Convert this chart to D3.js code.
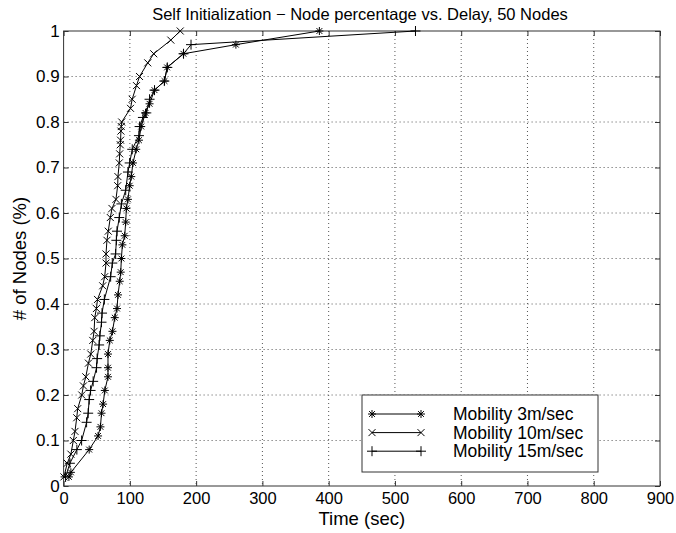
<!DOCTYPE html>
<html>
<head>
<meta charset="utf-8">
<script src="https://cdn.jsdelivr.net/npm/d3@7"></script>
<style>
  body { margin: 0; background: #fff; }
  text { font-family: "Liberation Sans", Arial, sans-serif; fill: #000; }
</style>
</head>
<body>
<div id="chart-area"></div>
<script>
// Data
var mob3Time  = [8, 11, 38.6, 52, 55.6, 57.2, 59.6, 62.2, 67, 67, 67, 69.7, 73.7, 77.2, 80.6, 82.1, 84.7, 86.2, 87.2, 88.7, 92.2, 93.7, 94.7, 97.1, 99.7, 102.1, 104.7, 109.6, 113.7, 117.1, 123.6, 129.7, 137.2, 152.3, 156.2, 180.8, 260, 386];
var mob3Frac  = [0.02, 0.03, 0.08, 0.11, 0.13, 0.16, 0.18, 0.21, 0.24, 0.26, 0.29, 0.32, 0.34, 0.37, 0.39, 0.42, 0.45, 0.47, 0.50, 0.53, 0.55, 0.58, 0.61, 0.63, 0.66, 0.68, 0.71, 0.74, 0.76, 0.79, 0.82, 0.84, 0.87, 0.89, 0.92, 0.95, 0.97, 1.0];

var mob10Time = [0.5, 5.5, 11, 14.7, 17.2, 19.8, 21.3, 27.4, 29.9, 33.5, 37.5, 41, 44, 46, 47, 49.5, 51.2, 59, 62, 64, 64, 65.4, 67.4, 70.5, 73, 79, 81.6, 82, 84, 84.6, 85.5, 86, 86.5, 87, 87.7, 101, 103.5, 110, 114.6, 127, 136, 161.8, 176];
var mob10Frac = [0.02, 0.05, 0.07, 0.10, 0.12, 0.15, 0.17, 0.20, 0.22, 0.24, 0.27, 0.29, 0.32, 0.34, 0.37, 0.39, 0.41, 0.44, 0.46, 0.49, 0.51, 0.54, 0.56, 0.59, 0.61, 0.63, 0.66, 0.68, 0.71, 0.73, 0.75, 0.76, 0.78, 0.79, 0.80, 0.83, 0.85, 0.88, 0.90, 0.93, 0.95, 0.98, 1.0];

var mob15Time = [3, 9.5, 20, 27.2, 34.7, 37.1, 38.6, 40.7, 44.6, 49.7, 50.6, 53.6, 54.7, 57.2, 58, 61.5, 71, 73.5, 78.5, 79.6, 80.6, 84, 87.2, 93.7, 97.1, 99.7, 103.6, 113.7, 114.7, 119.7, 124.8, 129.7, 137.2, 152, 156.5, 181, 192.3, 531];
var mob15Frac = [0.02, 0.05, 0.08, 0.10, 0.14, 0.16, 0.19, 0.21, 0.23, 0.26, 0.28, 0.31, 0.33, 0.36, 0.38, 0.41, 0.46, 0.49, 0.51, 0.54, 0.56, 0.59, 0.62, 0.65, 0.69, 0.71, 0.74, 0.77, 0.79, 0.81, 0.82, 0.85, 0.87, 0.89, 0.92, 0.95, 0.97, 1.0];

var seriesNames = ["Mobility 3m/sec", "Mobility 10m/sec", "Mobility 15m/sec"];
var xTicks = [0, 100, 200, 300, 400, 500, 600, 700, 800, 900];
var yTicks = [0, 0.1, 0.2, 0.3, 0.4, 0.5, 0.6, 0.7, 0.8, 0.9, 1];
var yTickLabels = ["0", "0.1", "0.2", "0.3", "0.4", "0.5", "0.6", "0.7", "0.8", "0.9", "1"];

var series = [
	{ name: seriesNames[0], marker: "star",  pts: d3.zip(mob3Time, mob3Frac) },
	{ name: seriesNames[1], marker: "cross", pts: d3.zip(mob10Time, mob10Frac) },
	{ name: seriesNames[2], marker: "plus",  pts: d3.zip(mob15Time, mob15Frac) }
];

// Margins
var margin = { top: 31, right: 16, bottom: 47, left: 63.6 };
var width = 676 - margin.left - margin.right,
	height = 533 - margin.top - margin.bottom;

var x = d3.scaleLinear().domain([0, 900]).range([0, width]);
var y = d3.scaleLinear().domain([0, 1]).range([height, 0]);

var svg = d3.select("#chart-area")
	.append("svg")
		.attr("width", 676)
		.attr("height", 533);

var g = svg.append("g")
	.attr("transform", `translate(${margin.left},${margin.top})`);

// Dotted grid
g.selectAll(".vgrid")
	.data(xTicks.slice(1, -1))
	.enter().append("line")
		.attr("x1", (d) => x(d)).attr("x2", (d) => x(d))
		.attr("y1", 0).attr("y2", height)
		.attr("stroke", "#555")
		.attr("stroke-dasharray", "1,3");

g.selectAll(".hgrid")
	.data(yTicks.slice(1, -1))
	.enter().append("line")
		.attr("x1", 0).attr("x2", width)
		.attr("y1", (d) => y(d)).attr("y2", (d) => y(d))
		.attr("stroke", "#555")
		.attr("stroke-dasharray", "1,3");

// Axes, ticks pointing inward, mirrored on top/right
var xAxisCall = d3.axisBottom(x).tickValues(xTicks).tickSizeInner(-5).tickSizeOuter(0).tickPadding(6);
var yAxisCall = d3.axisLeft(y).tickValues(yTicks).tickSizeInner(-5).tickSizeOuter(0).tickPadding(4)
	.tickFormat((d, i) => yTickLabels[i]);

var xa = g.append("g")
	.attr("transform", `translate(0,${height})`)
	.call(xAxisCall);
var ya = g.append("g").call(yAxisCall);

g.append("g").call(d3.axisTop(x).tickValues(xTicks).tickSizeInner(-5).tickSizeOuter(0).tickFormat(""));
g.append("g").attr("transform", `translate(${width},0)`)
	.call(d3.axisRight(y).tickValues(yTicks).tickSizeInner(-5).tickSizeOuter(0).tickFormat(""));

g.selectAll(".domain").attr("stroke", "none");
g.selectAll(".tick line").attr("stroke", "#333");
xa.selectAll("text").attr("font-size", 16.5).attr("font-family", "Liberation Sans");
ya.selectAll("text").attr("font-size", 17).attr("font-family", "Liberation Sans");

g.append("rect")
	.attr("width", width).attr("height", height)
	.attr("fill", "none")
	.attr("stroke", "#333");

// Markers
function drawMarker(sel, type, cx, cy) {
	var s;
	if (type === "plus") {
		s = 5;
		sel.append("path").attr("d", `M${cx - s},${cy}H${cx + s}M${cx},${cy - s}V${cy + s}`);
	} else if (type === "cross") {
		s = 3.5;
		sel.append("path").attr("d", `M${cx - s},${cy - s}L${cx + s},${cy + s}M${cx - s},${cy + s}L${cx + s},${cy - s}`);
	} else {
		s = 4;
		var d = 2.9;
		sel.append("path").attr("d", `M${cx - s},${cy}H${cx + s}M${cx},${cy - s}V${cy + s}` +
			`M${cx - d},${cy - d}L${cx + d},${cy + d}M${cx - d},${cy + d}L${cx + d},${cy - d}`);
	}
}

var line = d3.line().x((d) => x(d[0])).y((d) => y(d[1]));

series.forEach((s) => {
	g.append("path")
		.datum(s.pts)
		.attr("d", line)
		.attr("fill", "none")
		.attr("stroke", "#000")
		.attr("stroke-width", 1);
	var mg = g.append("g").attr("stroke", "#000").attr("stroke-width", 1).attr("fill", "none");
	s.pts.forEach((p) => drawMarker(mg, s.marker, x(p[0]), y(p[1])));
});

// Legend
var lg = svg.append("g").attr("transform", "translate(362,395)");
lg.append("rect")
	.attr("width", 236).attr("height", 77)
	.attr("fill", "#fff")
	.attr("stroke", "#333");

series.forEach((s, i) => {
	var ly = 19 + i * 18.6;
	lg.append("line")
		.attr("x1", 10).attr("x2", 59)
		.attr("y1", ly).attr("y2", ly)
		.attr("stroke", "#000");
	var mg = lg.append("g").attr("stroke", "#000").attr("fill", "none");
	drawMarker(mg, s.marker, 10, ly);
	drawMarker(mg, s.marker, 59, ly);
	lg.append("text")
		.attr("x", 91).attr("y", ly + 6)
		.attr("font-size", 17.5)
		.text(s.name);
});

// Title and axis labels
svg.append("text")
	.attr("x", 360)
	.attr("y", 20)
	.attr("font-size", 16.5)
	.attr("text-anchor", "middle")
	.text("Self Initialization \u2212 Node percentage vs. Delay, 50 Nodes");

svg.append("text")
	.attr("x", margin.left + width / 2)
	.attr("y", 525)
	.attr("font-size", 18.5)
	.attr("text-anchor", "middle")
	.text("Time (sec)");

svg.append("text")
	.attr("x", -(margin.top + height / 2))
	.attr("y", 25.5)
	.attr("font-size", 18.5)
	.attr("text-anchor", "middle")
	.attr("transform", "rotate(-90)")
	.text("# of Nodes (%)");
</script>
</body>
</html>
